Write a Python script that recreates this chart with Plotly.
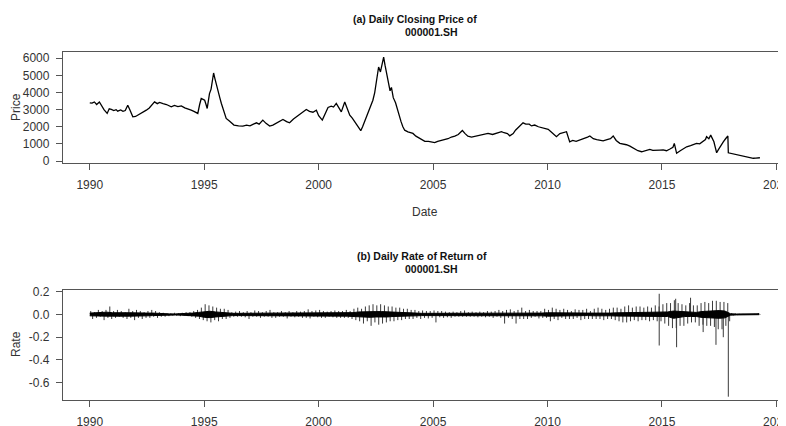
import plotly.graph_objects as go

# ---------------- data ----------------
price_years = [
    1990.00, 1990.10, 1990.20, 1990.30, 1990.42, 1990.50, 1990.62, 1990.76, 1990.85, 1990.94,
    1991.05, 1991.15, 1991.22, 1991.35, 1991.45, 1991.55, 1991.66, 1991.75, 1991.88, 1992.00,
    1992.10, 1992.25, 1992.35, 1992.47, 1992.60, 1992.70, 1992.83, 1992.95, 1993.05, 1993.20,
    1993.35, 1993.56, 1993.70, 1993.85, 1994.00, 1994.15, 1994.30, 1994.43, 1994.55, 1994.65,
    1994.72, 1994.80, 1994.87, 1994.95, 1995.02, 1995.08, 1995.13, 1995.18, 1995.23, 1995.30,
    1995.36, 1995.41, 1995.47, 1995.53, 1995.60, 1995.68, 1995.75, 1995.85, 1995.96, 1996.10,
    1996.30, 1996.50, 1996.69, 1996.85, 1997.00, 1997.15, 1997.28, 1997.40, 1997.56, 1997.70,
    1997.86, 1998.00, 1998.15, 1998.30, 1998.44, 1998.60, 1998.73, 1998.90, 1999.05, 1999.20,
    1999.35, 1999.46, 1999.60, 1999.75, 1999.90, 2000.00, 2000.16, 2000.30, 2000.41, 2000.55,
    2000.65, 2000.77, 2000.88, 2000.99, 2001.14, 2001.25, 2001.36, 2001.47, 2001.57, 2001.70,
    2001.84, 2001.92, 2002.01, 2002.10, 2002.16, 2002.25, 2002.37, 2002.45, 2002.52, 2002.62,
    2002.70, 2002.78, 2002.84, 2002.90, 2002.98, 2003.06, 2003.12, 2003.18, 2003.26, 2003.36,
    2003.44, 2003.50, 2003.60, 2003.68, 2003.76, 2003.90, 2004.00, 2004.12, 2004.25, 2004.40,
    2004.52, 2004.64, 2004.80, 2004.95, 2005.07, 2005.20, 2005.35, 2005.50, 2005.65, 2005.80,
    2005.95, 2006.10, 2006.28, 2006.40, 2006.52, 2006.68, 2006.85, 2007.00, 2007.20, 2007.40,
    2007.60, 2007.80, 2007.99, 2008.10, 2008.25, 2008.35, 2008.50, 2008.60, 2008.75, 2008.93,
    2009.05, 2009.20, 2009.30, 2009.44, 2009.60, 2009.75, 2010.03, 2010.20, 2010.39, 2010.54,
    2010.68, 2010.83, 2010.97, 2011.10, 2011.25, 2011.41, 2011.60, 2011.75, 2011.85, 2012.00,
    2012.15, 2012.30, 2012.43, 2012.60, 2012.75, 2012.87, 2013.00, 2013.16, 2013.30, 2013.45,
    2013.60, 2013.75, 2013.95, 2014.11, 2014.25, 2014.47, 2014.60, 2014.75, 2014.91, 2015.05,
    2015.20, 2015.35, 2015.48, 2015.54, 2015.60, 2015.64, 2015.80, 2016.00, 2016.08, 2016.25,
    2016.40, 2016.51, 2016.65, 2016.80, 2016.90, 2016.95, 2017.05, 2017.13, 2017.20, 2017.27,
    2017.33, 2017.39, 2017.46, 2017.53, 2017.60, 2017.68, 2017.78, 2017.85, 2017.88, 2017.90,
    2018.10, 2018.41, 2018.70, 2018.99, 2019.10, 2019.28,
]
price_values = [
    3400, 3380, 3450, 3300, 3450, 3250, 3000, 2780, 3050, 3010,
    2950, 3000, 2910, 2980, 2900, 2950, 3260, 3000, 2580, 2600,
    2680, 2750, 2850, 2970, 3100, 3250, 3450, 3350, 3420, 3350,
    3300, 3160, 3250, 3180, 3220, 3100, 3050, 2970, 2900, 2850,
    2780, 3300, 3650, 3600, 3550, 3300, 3070, 3500, 3940, 4200,
    4600, 5140, 4800, 4530, 4200, 3700, 3360, 3000, 2490, 2330,
    2100, 2050, 2040, 2100, 2050, 2150, 2230, 2150, 2390, 2200,
    2040, 2100, 2200, 2300, 2430, 2300, 2230, 2450, 2600, 2750,
    2850, 3010, 2900, 2850, 2970, 2650, 2390, 2800, 3130, 3200,
    3150, 3360, 3100, 2870, 3450, 3000, 2680, 2500, 2290, 2000,
    1770, 2000, 2290, 2600, 2870, 3100, 3550, 4000, 4620, 5490,
    5200, 5700, 6070, 5600, 5100, 4600, 4100, 4300, 3700, 3400,
    3000, 2870, 2300, 2000, 1800, 1700, 1650, 1610, 1450, 1350,
    1250, 1150, 1150, 1100, 1070, 1150, 1200, 1250, 1300, 1400,
    1450, 1550, 1780, 1600, 1450, 1400, 1450, 1500, 1550, 1610,
    1550, 1650, 1710, 1650, 1600, 1470, 1600, 1800, 2000, 2230,
    2150, 2150, 2050, 2100, 2000, 1950, 1850, 1650, 1420, 1600,
    1650, 1710, 1120, 1200, 1150, 1220, 1300, 1400, 1460, 1300,
    1250, 1200, 1180, 1250, 1300, 1460, 1200, 1030, 1000, 950,
    870, 750, 600, 540, 600, 680, 620, 650, 640, 650,
    600, 700, 800, 1030, 700, 450, 600, 750, 830, 900,
    950, 1030, 1000, 1120, 1250, 1420, 1300, 1510, 1300, 1120,
    800, 480, 650, 830, 950, 1120, 1300, 1460, 1460, 480,
    420, 350, 250, 160, 170, 190,
]

# dense core of the daily-return series (quarterly envelope)
band_years = [1990.0 + 0.25 * i for i in range(118)]
band_upper = [
    0.012, 0.015, 0.015, 0.02, 0.015, 0.012, 0.015, 0.015, 0.012, 0.012,
    0.012, 0.012, 0.008, 0.006, 0.005, 0.005, 0.006, 0.008, 0.012, 0.018,
    0.025, 0.028, 0.022, 0.016, 0.012, 0.01, 0.01, 0.01, 0.012, 0.012,
    0.01, 0.012, 0.01, 0.01, 0.012, 0.01, 0.012, 0.012, 0.014, 0.012,
    0.012, 0.012, 0.012, 0.015, 0.015, 0.014, 0.016, 0.022, 0.025, 0.025,
    0.025, 0.025, 0.022, 0.022, 0.02, 0.016, 0.014, 0.012, 0.01, 0.01,
    0.01, 0.008, 0.008, 0.007, 0.007, 0.008, 0.007, 0.007, 0.007, 0.007,
    0.008, 0.01, 0.012, 0.01, 0.012, 0.01, 0.008, 0.008, 0.008, 0.012,
    0.015, 0.014, 0.012, 0.01, 0.01, 0.01, 0.012, 0.012, 0.012, 0.01,
    0.01, 0.012, 0.014, 0.015, 0.017, 0.015, 0.015, 0.014, 0.015, 0.018,
    0.018, 0.022, 0.03, 0.026, 0.022, 0.018, 0.018, 0.026, 0.03, 0.034,
    0.034, 0.03, 0.006, 0.004, 0.003, 0.003, 0.004, 0.006,
]
band_lower = [
    -0.012, -0.015, -0.018, -0.015, -0.015, -0.012, -0.015, -0.015, -0.012, -0.012,
    -0.012, -0.01, -0.008, -0.005, -0.005, -0.005, -0.006, -0.008, -0.01, -0.015,
    -0.025, -0.028, -0.022, -0.016, -0.012, -0.01, -0.01, -0.01, -0.012, -0.012,
    -0.01, -0.01, -0.01, -0.01, -0.012, -0.01, -0.012, -0.012, -0.014, -0.012,
    -0.012, -0.012, -0.01, -0.012, -0.015, -0.015, -0.018, -0.022, -0.025, -0.025,
    -0.022, -0.025, -0.022, -0.018, -0.015, -0.015, -0.012, -0.012, -0.01, -0.01,
    -0.01, -0.008, -0.008, -0.007, -0.007, -0.008, -0.007, -0.007, -0.007, -0.007,
    -0.008, -0.01, -0.012, -0.01, -0.012, -0.01, -0.008, -0.008, -0.008, -0.012,
    -0.015, -0.014, -0.012, -0.01, -0.01, -0.01, -0.012, -0.01, -0.012, -0.01,
    -0.01, -0.012, -0.014, -0.015, -0.017, -0.015, -0.015, -0.014, -0.015, -0.018,
    -0.018, -0.018, -0.034, -0.026, -0.018, -0.018, -0.018, -0.026, -0.03, -0.034,
    -0.034, -0.03, -0.006, -0.004, -0.003, -0.003, -0.003, -0.002,
]

# monthly spikes around the core (signed extreme daily return per month)
spike_monthly = [
    0.03, -0.04, 0.02, -0.03, 0.04, -0.02, 0.03, -0.05, 0.04, -0.03, 0.07, -0.04,      # 1990
    0.03, -0.03, 0.04, -0.02, 0.03, -0.03, 0.02, -0.04, 0.05, -0.03, 0.03, -0.05,      # 1991
    0.04, -0.03, 0.03, -0.04, 0.02, -0.03, 0.03, -0.03, 0.04, -0.02, 0.03, -0.03,      # 1992
    0.02, -0.02, 0.015, -0.02, 0.01, -0.015, 0.01, -0.01, 0.015, -0.01, 0.01, -0.015,  # 1993
    0.015, -0.01, 0.02, -0.015, 0.02, -0.02, 0.03, -0.03, 0.04, -0.04, 0.06, -0.05,    # 1994
    0.09, -0.06, 0.08, -0.07, 0.07, -0.05, 0.06, -0.06, 0.05, -0.04, 0.05, -0.04,      # 1995
    0.04, -0.03, 0.02, -0.02, 0.025, -0.02, 0.03, -0.02, 0.02, -0.025, 0.03, -0.04,    # 1996
    0.02, -0.02, 0.035, -0.02, 0.03, -0.03, 0.02, -0.02, 0.03, -0.02, 0.04, -0.03,     # 1997
    0.02, -0.03, 0.02, -0.02, 0.03, -0.02, 0.02, -0.035, 0.03, -0.02, 0.02, -0.025,    # 1998
    0.03, -0.02, 0.025, -0.03, 0.03, -0.03, 0.045, -0.035, 0.03, -0.02, 0.035, -0.025, # 1999
    0.04, -0.03, 0.03, -0.03, 0.025, -0.02, 0.03, -0.025, 0.035, -0.03, 0.03, -0.03,   # 2000
    0.03, -0.03, 0.04, -0.03, 0.03, -0.04, 0.05, -0.05, 0.06, -0.06, 0.05, -0.08,      # 2001
    0.07, -0.06, 0.08, -0.10, 0.09, -0.07, 0.08, -0.09, 0.09, -0.08, 0.08, -0.07,      # 2002
    0.07, -0.06, 0.07, -0.06, 0.06, -0.05, 0.06, -0.05, 0.05, -0.04, 0.05, -0.04,      # 2003
    0.04, -0.04, 0.04, -0.03, 0.03, -0.04, 0.035, -0.03, 0.03, -0.035, 0.03, -0.03,    # 2004
    0.035, -0.07, 0.03, -0.025, 0.03, -0.03, 0.025, -0.025, 0.02, -0.03, 0.025, -0.02, # 2005
    0.02, -0.02, 0.03, -0.02, 0.035, -0.02, 0.02, -0.02, 0.025, -0.02, 0.02, -0.025,   # 2006
    0.025, -0.02, 0.02, -0.025, 0.03, -0.02, 0.025, -0.03, 0.03, -0.02, 0.04, -0.03,   # 2007
    0.03, -0.08, 0.04, -0.03, 0.045, -0.04, 0.03, -0.08, 0.04, -0.04, 0.06, -0.04,     # 2008
    0.03, -0.04, 0.04, -0.03, 0.03, -0.02, 0.03, -0.035, 0.03, -0.03, 0.05, -0.03,     # 2009
    0.04, -0.06, 0.06, -0.04, 0.05, -0.05, 0.04, -0.03, 0.05, -0.04, 0.04, -0.04,      # 2010
    0.03, -0.04, 0.045, -0.03, 0.04, -0.05, 0.04, -0.04, 0.05, -0.04, 0.03, -0.04,     # 2011
    0.05, -0.04, 0.06, -0.04, 0.05, -0.05, 0.04, -0.04, 0.05, -0.04, 0.06, -0.05,      # 2012
    0.06, -0.06, 0.05, -0.07, 0.07, -0.07, 0.08, -0.06, 0.06, -0.05, 0.07, -0.06,      # 2013
    0.07, -0.05, 0.06, -0.05, 0.07, -0.06, 0.06, -0.05, 0.08, -0.06, 0.07, -0.06,      # 2014
    0.09, -0.08, 0.10, -0.10, 0.10, -0.12, 0.125, -0.12, 0.10, -0.10, 0.09, -0.10,     # 2015
    0.08, -0.08, 0.10, -0.07, 0.08, -0.07, 0.08, -0.10, 0.10, -0.09, 0.11, -0.10,      # 2016
    0.10, -0.10, 0.12, -0.11, 0.12, -0.13, 0.11, -0.13, 0.11, -0.10, 0.10, -0.06,      # 2017
    0.01, -0.008, 0.008, -0.006, 0.006, -0.005, 0.005, -0.005, 0.004, -0.004, 0.004, -0.004,  # 2018
    0.005, -0.003, 0.012, -0.004,                                                       # 2019
]
spike_month_years = [1990.0 + (i + 0.5) / 12 for i in range(len(spike_monthly))]

# the largest individual daily returns
big_years = [2014.88, 2014.88, 2015.60, 2015.64, 2016.25, 2016.80, 2017.36, 2017.68, 2017.90]
big_values = [0.182, -0.273, 0.138, -0.288, 0.147, -0.155, -0.267, -0.20, -0.723]

price_ticks = [0, 1000, 2000, 3000, 4000, 5000, 6000]
rate_ticks = [-0.6, -0.4, -0.2, 0.0, 0.2]
rate_ticktext = ["-0.6", "-0.4", "-0.2", "0.0", "0.2"]
year_ticks = [1990, 1995, 2000, 2005, 2010, 2015, 2020]

title_a = ["(a) Daily Closing Price of", "000001.SH"]
title_b = ["(b) Daily Rate of Return of", "000001.SH"]

# ---------------- figure ----------------
# the page body has an 8px default margin, so the figure is drawn 8px smaller
OFF = 8
WIN_W, WIN_H = 786, 426
W, H = WIN_W - OFF, WIN_H - OFF
FONT = "Liberation Sans, Arial, sans-serif"

def px(x):
    return (x - OFF) / W

def py(y):
    return 1 - (y - OFF) / H

fig = go.Figure()

fig.add_trace(go.Scatter(x=price_years, y=price_values, mode="lines",
                         line=dict(color="black", width=1.3),
                         xaxis="x", yaxis="y", showlegend=False, hoverinfo="skip"))

sx, sy = [], []
for yr, v in list(zip(spike_month_years, spike_monthly)) + list(zip(big_years, big_values)):
    sx += [yr, yr, None]
    sy += [0, v, None]
fig.add_trace(go.Scatter(x=sx, y=sy, mode="lines",
                         line=dict(color="#3a3a3a", width=1.0),
                         xaxis="x2", yaxis="y2", showlegend=False, hoverinfo="skip"))

fig.add_trace(go.Scatter(x=band_years, y=band_lower, mode="lines",
                         line=dict(color="black", width=1),
                         xaxis="x2", yaxis="y2", showlegend=False, hoverinfo="skip"))
fig.add_trace(go.Scatter(x=band_years, y=band_upper, mode="lines", fill="tonexty",
                         fillcolor="black", line=dict(color="black", width=1),
                         xaxis="x2", yaxis="y2", showlegend=False, hoverinfo="skip"))

x_range = [1988.83, 2020.42]
axis_common = dict(showgrid=False, zeroline=False, showline=True, mirror=True,
                   linecolor="#555555", linewidth=1.3, ticks="outside", ticklen=6,
                   tickcolor="#555555", tickwidth=1, automargin=False,
                   ticklabeloverflow="allow", ticklabelstandoff=4,
                   tickfont=dict(family=FONT, size=12, color="#333333"))

x_dom = [px(63), 1.0]
fig.update_layout(
    width=W, height=H,
    margin=dict(l=0, r=0, t=0, b=0),
    paper_bgcolor="white", plot_bgcolor="white",
    xaxis=dict(domain=x_dom, range=x_range, tickvals=year_ticks, anchor="y", **axis_common),
    yaxis=dict(domain=[py(163), py(51.7)], range=[-117, 6385],
               tickvals=price_ticks, anchor="x", **axis_common),
    xaxis2=dict(domain=x_dom, range=x_range, tickvals=year_ticks, anchor="y2", **axis_common),
    yaxis2=dict(domain=[py(400), py(290)], range=[-0.752, 0.215],
                tickvals=rate_ticks, ticktext=rate_ticktext, anchor="x2", **axis_common),
)

def txt(x, y, s, size=12, bold=False, angle=0):
    fig.add_annotation(x=px(x), y=py(y), xref="paper", yref="paper",
                       text=f"<b>{s}</b>" if bold else s, showarrow=False,
                       xanchor="center", yanchor="middle", textangle=angle,
                       font=dict(family=FONT, size=size, color="#111111" if bold else "#333333"))

txt(414.5, 19, title_a[0], size=10.5, bold=True)
txt(432, 32, title_a[1], size=10.5, bold=True)
txt(422, 256, title_b[0], size=10.5, bold=True)
txt(432, 269, title_b[1], size=10.5, bold=True)
txt(425, 212, "Date", size=12)
txt(16, 107, "Price", size=12, angle=-90)
txt(16, 344, "Rate", size=12, angle=-90)

fig.write_html("out.html")
